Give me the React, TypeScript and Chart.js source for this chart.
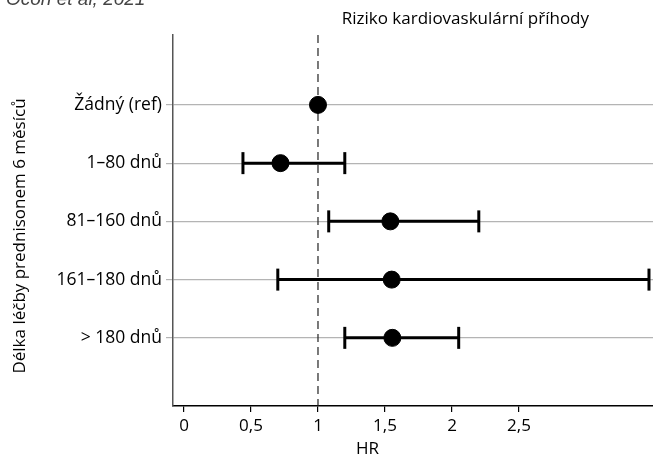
import React, { useEffect, useRef } from 'react';
import { Chart, registerables } from 'chart.js';

Chart.register(...registerables);

const categories = ['Žádný (ref)', '1–80 dnů', '81–160 dnů', '161–180 dnů', '> 180 dnů'];
const hrValues = [1.0, 0.72, 1.54, 1.55, 1.555];
const ciLow: (number | null)[] = [null, 0.44, 1.08, 0.7, 1.2];
const ciHigh: (number | null)[] = [null, 1.2, 2.2, 3.47, 2.05];
const xTickValues = [0, 0.5, 1, 1.5, 2, 2.5];
const xTickLabels = ['0', '0,5', '1', '1,5', '2', '2,5'];
const refValue = 1;

const titleText = 'Riziko kardiovaskulární příhody';
const xTitleText = 'HR';
const yTitleText = 'Délka léčby prednisonem 6 měsíců';
const sourceText = 'Ocon et al, 2021';

const FONT = '"Open Sans", "Noto Sans", sans-serif';

export default function App() {
  const ref = useRef<HTMLCanvasElement | null>(null);

  useEffect(() => {
    if (!ref.current) return;
    const yMin = -1.2;
    const yMax = 5.17;

    const ciDatasets = categories
      .map((_, i) => i)
      .filter((i) => ciLow[i] !== null && ciHigh[i] !== null)
      .map((i) => ({
        type: 'line' as const,
        data: [
          { x: ciLow[i] as number, y: i },
          { x: ciHigh[i] as number, y: i },
        ],
        borderColor: '#000',
        backgroundColor: '#000',
        borderWidth: 3,
        pointStyle: 'line' as const,
        pointRotation: 90,
        pointRadius: 11,
        pointBorderWidth: 3,
        pointBorderColor: '#000',
        showLine: true,
        clip: false as any,
      }));

    const textPlugin = {
      id: 'texts',
      afterDraw(chart: any) {
        const ctx = chart.ctx;
        const xs = chart.scales.x;
        ctx.save();
        ctx.fillStyle = '#000';
        ctx.font = `17px ${FONT}`;
        ctx.textAlign = 'center';
        ctx.textBaseline = 'middle';
        ctx.fillText(titleText, xs.getPixelForValue(2.1), 19);
        ctx.textBaseline = 'top';
        ctx.fillText(xTitleText, xs.getPixelForValue(1.37), 441);
        ctx.save();
        ctx.translate(20, 236);
        ctx.rotate(-Math.PI / 2);
        ctx.textBaseline = 'middle';
        ctx.fillText(yTitleText, 0, 0);
        ctx.restore();
        ctx.fillStyle = '#444';
        ctx.font = `italic 19px "Liberation Sans", Arial, sans-serif`;
        ctx.textAlign = 'left';
        ctx.textBaseline = 'alphabetic';
        ctx.fillText(sourceText, 6, 5);
        ctx.restore();
      },
    };

    const chart = new Chart(ref.current, {
      type: 'scatter',
      data: {
        datasets: [
          {
            type: 'scatter',
            data: hrValues.map((v, i) => ({ x: v, y: i })),
            backgroundColor: '#000',
            borderColor: '#000',
            pointRadius: 8.5,
            pointHoverRadius: 8.5,
          },
          ...ciDatasets,
          {
            type: 'line',
            data: [
              { x: refValue, y: yMin },
              { x: refValue, y: yMax },
            ],
            borderColor: '#222',
            borderWidth: 1.2,
            borderDash: [8, 5],
            pointRadius: 0,
            showLine: true,
          },
        ] as any,
      },
      options: {
        animation: false,
        responsive: false,
        layout: { autoPadding: false, padding: { top: 35, left: 0, right: 0, bottom: 0 } },
        plugins: {
          legend: { display: false },
          tooltip: { enabled: false },
        },
        scales: {
          x: {
            type: 'linear',
            min: -0.082,
            max: 3.5,
            afterBuildTicks: (scale: any) => {
              scale.ticks = xTickValues.map((v) => ({ value: v }));
            },
            afterFit: (scale: any) => {
              scale.height = 49;
            },
            ticks: {
              color: '#000',
              font: { family: FONT, size: 17 },
              padding: 4,
              maxRotation: 0,
              callback: (v: any) => {
                const idx = xTickValues.indexOf(Number(v));
                return idx >= 0 ? xTickLabels[idx] : '';
              },
            },
            grid: {
              drawOnChartArea: false,
              drawTicks: true,
              tickLength: 6,
              color: '#000',
              lineWidth: 1.2,
            },
            border: { display: true, color: '#000', width: 1.5 },
          },
          y: {
            type: 'linear',
            min: yMin,
            max: yMax,
            reverse: true,
            afterBuildTicks: (scale: any) => {
              scale.ticks = categories.map((_, i) => ({ value: i }));
            },
            afterFit: (scale: any) => {
              scale.width = 173;
            },
            ticks: {
              color: '#000',
              font: { family: FONT, size: 17.5 },
              padding: 4,
              callback: (v: any) => categories[Number(v)] ?? '',
            },
            grid: {
              color: '#b4b4b4',
              lineWidth: 1.2,
              tickLength: 7,
            },
            border: { display: true, color: '#555', width: 1.5 },
          },
        },
      },
      plugins: [textPlugin],
    });
    return () => chart.destroy();
  }, []);

  return (
    <div style={{ position: 'absolute', left: 0, top: 0, width: 653, height: 455, background: '#fff' }}>
      <canvas ref={ref} width={653} height={455} />
    </div>
  );
}
